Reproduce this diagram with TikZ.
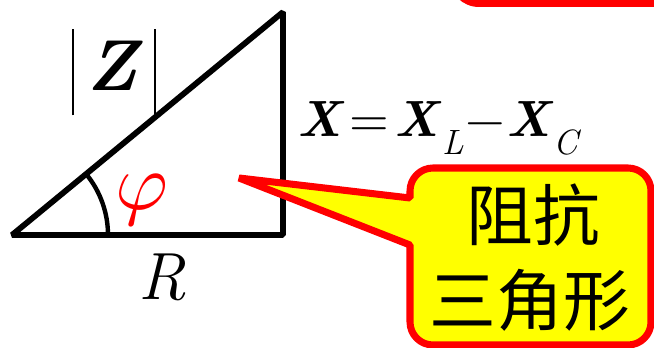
\documentclass[tikz,border=0pt]{standalone}
\usepackage{fontspec}
\usepackage{unicode-math}
\newfontfamily\cjk{Noto Sans CJK SC}
\usetikzlibrary{positioning, calc}
\definecolor{calloutred}{RGB}{255,0,0}
\definecolor{calloutyellow}{RGB}{255,255,0}

\begin{document}
\begin{tikzpicture}[
  side/.style={line width=3.3pt, line join=bevel},
  anglemark/.style={line width=2.5pt},
  lbl/.style={inner sep=0pt, font=\fontsize{38}{40}\selectfont\itshape},
  formula/.style={inner sep=0pt, anchor=base west, font=\fontsize{29}{36}\selectfont},
  callout/.style={draw=calloutred, fill=calloutyellow, line width=4pt, line join=bevel},
  cjklabel/.style={inner sep=0pt, align=center, font=\cjk\fontsize{38}{48}\selectfont}
]
  \useasboundingbox (0,0) rectangle (13.08,6.96);
  \clip (0,0) rectangle (13.08,6.96);

  % edge of the next box, cut by the top border
  \fill[calloutred, rounded corners=0.6cm] (8.98,6.82) rectangle (14.5,8.5);

  % impedance triangle
  \coordinate (O) at (0.24,2.26);
  \coordinate (B) at (5.66,2.26);
  \coordinate (T) at (5.66,6.72);
  \draw[side] (O) -- (B) -- (T) -- cycle;
  \draw[anglemark] ($(O)+(1.92,0)$) arc[start angle=0, end angle=39.45, radius=1.92];

  \node[lbl, text=calloutred, font=\fontsize{46}{48}\selectfont] (phi) at (2.84,2.95) {$\varphi$};
  \node[lbl] (res) at (3.24,1.42) {R};
  \node[lbl, font=\fontsize{41}{44}\selectfont\bfseries\itshape] (modz) at (2.28,5.52)
    {\rule[-14pt]{1.1pt}{49.5pt}\hspace{7pt}Z\hspace{9pt}\rule[-14pt]{1.1pt}{49.5pt}};
  \node[formula] (react) at (5.94,4.22)
    {\textbf{\textit{X}}\hspace{3pt}$=$\hspace{3pt}\textbf{\textit{X}}\raisebox{-10pt}{\fontsize{20}{20}\selectfont\textit{L}}\hspace{1pt}$-$\hspace{1pt}\textbf{\textit{X}}\raisebox{-10pt}{\fontsize{20}{20}\selectfont\textit{C}}};

  % callout
  \coordinate (tip) at (4.78,3.40);
  \draw[callout] (tip) -- (8.20,3.00) -- (8.20,3.14)
    arc[start angle=180, end angle=90, radius=0.46] -- (12.56,3.60)
    arc[start angle=90, end angle=0, radius=0.46] -- (13.02,0.52)
    arc[start angle=0, end angle=-90, radius=0.46] -- (8.66,0.06)
    arc[start angle=270, end angle=180, radius=0.46] -- (8.20,2.06) -- cycle;
  \node[cjklabel] (name1) at (10.66,2.66) {阻抗};
  \node[cjklabel] (name2) at (10.60,0.96) {三角形};
\end{tikzpicture}
\end{document}
